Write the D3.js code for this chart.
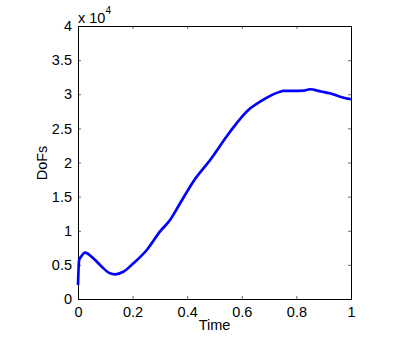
<!DOCTYPE html>
<html>
<head>
<meta charset="utf-8">
<script src="https://cdn.jsdelivr.net/npm/d3@7"></script>
<style>
  body { margin: 0; background: #fff; }
  svg text { font-family: "Liberation Sans", Arial, Helvetica, sans-serif; }
</style>
</head>
<body>
<div id="chart"></div>
<script>
// time samples and degrees of freedom
var time = [0, 0.004, 0.011, 0.026, 0.056, 0.087, 0.117, 0.136, 0.166, 0.203, 0.252, 0.30,
            0.337, 0.374, 0.422, 0.484, 0.557, 0.624, 0.667, 0.74, 0.752, 0.80, 0.825,
            0.85, 0.89, 0.923, 0.96, 1.0];
var dofs = [2050, 5700, 6200, 6800, 5960, 4730, 3760, 3620, 4000, 5230, 7180, 9860,
            11570, 14020, 17190, 20370, 24510, 27690, 28910, 30370, 30480, 30500, 30520,
            30730, 30400, 30140, 29640, 29260];
var xTicks = [0, 0.2, 0.4, 0.6, 0.8, 1];
var yTicks = [0, 5000, 10000, 15000, 20000, 25000, 30000, 35000, 40000];

var width = 415, height = 337;
var mLeft = 78, mRight = 351, mTop = 26, mBottom = 299;

var svg = d3.select("#chart").append("svg")
    .attr("width", width)
    .attr("height", height);

var x = d3.scaleLinear().domain([0, 1]).range([mLeft, mRight]);
var y = d3.scaleLinear().domain([0, 40000]).range([mBottom, mTop]);

var fmtX = function (d) { return String(+d.toFixed(1)); };
var fmtY = function (d) { return String(+(d / 10000).toFixed(1)); };

//bottom and left axes with labels, ticks pointing inwards
var xAxis = svg.append("g")
    .attr("transform", "translate(0," + mBottom + ")")
    .call(d3.axisBottom(x).tickValues(xTicks).tickSize(-3).tickPadding(8).tickFormat(fmtX));
var yAxis = svg.append("g")
    .attr("transform", "translate(" + mLeft + ",0)")
    .call(d3.axisLeft(y).tickValues(yTicks).tickSize(-3).tickPadding(6).tickFormat(fmtY));

//top and right axes, ticks only
var xTop = svg.append("g")
    .attr("transform", "translate(0," + mTop + ")")
    .call(d3.axisTop(x).tickValues(xTicks).tickSize(-3).tickFormat(""));
var yRight = svg.append("g")
    .attr("transform", "translate(" + mRight + ",0)")
    .call(d3.axisRight(y).tickValues(yTicks).tickSize(-3).tickFormat(""));

[xAxis, yAxis, xTop, yRight].forEach(function (g) {
    g.select(".domain").attr("stroke", "#000").attr("stroke-width", 1);
    g.selectAll(".tick line").attr("stroke", "#000").attr("stroke-width", 0.6);
    g.selectAll(".tick text").attr("fill", "#000").style("font-size", "14.5px");
});

// the curve
var line = d3.line()
    .x(function (d, i) { return x(time[i]); })
    .y(function (d) { return y(d); })
    .curve(d3.curveMonotoneX);

svg.append("path")
    .datum(dofs)
    .attr("d", line)
    .attr("fill", "none")
    .attr("stroke", "#0000ff")
    .attr("stroke-width", 2.7)
    .attr("stroke-linejoin", "round");

// exponent label
var ex = svg.append("text")
    .attr("x", mLeft)
    .attr("y", 22.5)
    .style("font-size", "14.5px")
    .attr("fill", "#000");
ex.append("tspan").text("x 10");
ex.append("tspan").attr("dy", -9).style("font-size", "10px").text("4");

// axis titles
svg.append("text")
    .attr("x", (mLeft + mRight) / 2)
    .attr("y", 329.5)
    .attr("text-anchor", "middle")
    .style("font-size", "14.5px")
    .text("Time");

svg.append("text")
    .attr("transform", "translate(47,163) rotate(-90)")
    .attr("text-anchor", "middle")
    .style("font-size", "14.5px")
    .text("DoFs");
</script>
</body>
</html>
